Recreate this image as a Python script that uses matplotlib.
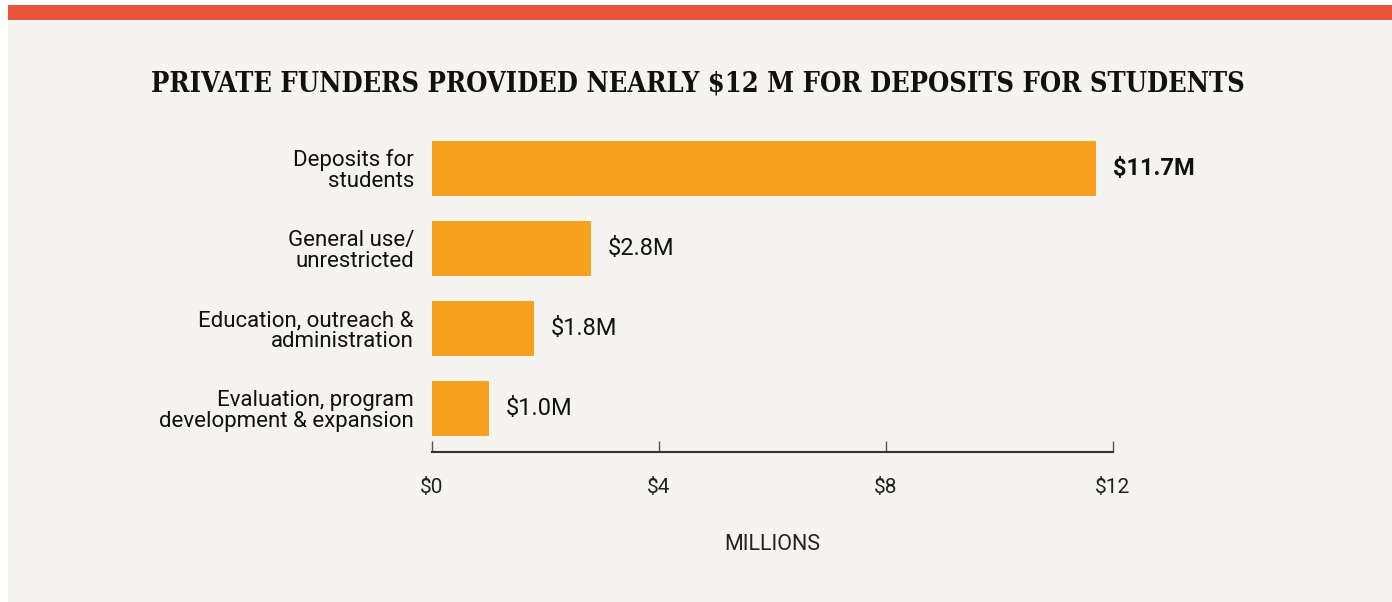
import matplotlib.pyplot as plt
from matplotlib.patches import Rectangle

# funding breakdown, millions of dollars
categories = ['Deposits for\nstudents',
              'General use/\nunrestricted',
              'Education, outreach &\nadministration',
              'Evaluation, program\ndevelopment & expansion']
amounts = [11.7, 2.8, 1.8, 1.0]
value_labels = ['$11.7M', '$2.8M', '$1.8M', '$1.0M']
xticks = [0, 4, 8, 12]
xtick_labels = ['$0', '$4', '$8', '$12']

bg = '#f5f4f0'
bar_color = '#f8a11f'
band_color = '#e9553b'

plt.rcParams['font.family'] = ['Roboto', 'DejaVu Sans']

W, H = 1392, 602
fig = plt.figure(figsize=(W / 100, H / 100), dpi=100, facecolor='white')

# panel background and red band along the top
fig.patches.append(Rectangle((8 / W, 0), 1 - 8 / W, 1 - 20 / H, transform=fig.transFigure,
                             facecolor=bg, edgecolor='none', zorder=-10))
fig.patches.append(Rectangle((8 / W, 1 - 20 / H), 1 - 8 / W, 15 / H, transform=fig.transFigure,
                             facecolor=band_color, edgecolor='none', zorder=-10))

ax = fig.add_axes([432 / W, (H - 452) / H, (1113 - 432) / W, (452 - 136.5) / H])
ax.set_facecolor('none')

ypos = list(range(len(categories)))
ax.barh(ypos, amounts, height=0.6875, color=bar_color, zorder=2)

for i, (v, lab) in enumerate(zip(amounts, value_labels)):
    ax.text(v + 0.3, i, lab, va='center', ha='left', fontsize=17,
            fontweight='bold' if i == 0 else 'normal', color='#111111')

ax.set_yticks(ypos)
ax.set_yticklabels(categories, fontsize=16, linespacing=1.0, color='#111111')
ax.tick_params(axis='y', length=0, pad=13)
ax.set_ylim(3.544, -0.4)
ax.set_xlim(0, 12)

ax.set_xticks(xticks)
ax.set_xticklabels(xtick_labels, fontsize=15, color='#222222')
ax.tick_params(axis='x', direction='in', length=8, width=1, color='#555555', pad=19)

for s in ['top', 'right', 'left']:
    ax.spines[s].set_visible(False)
ax.spines['bottom'].set_color('#333333')
ax.spines['bottom'].set_linewidth(1.5)

ax.set_xlabel('MILLIONS', fontsize=15.5, color='#222222', labelpad=26)

fig.text(698 / W, 1 - 84 / H, 'PRIVATE FUNDERS PROVIDED NEARLY $12 M FOR DEPOSITS FOR STUDENTS',
         ha='center', va='center', fontsize=19.5, fontweight='bold', fontstretch='condensed',
         family=['DejaVu Serif'], color='#111111')

fig.savefig('out.png', dpi=100, facecolor=fig.get_facecolor())
